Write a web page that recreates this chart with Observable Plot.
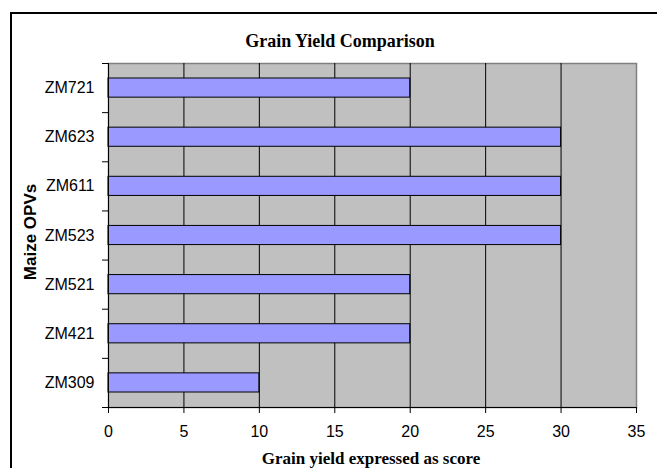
<!DOCTYPE html>
<html><head><meta charset="utf-8">
<script src="https://cdn.jsdelivr.net/npm/d3@7"></script>
<script src="https://cdn.jsdelivr.net/npm/@observablehq/plot@0.6"></script>
<style>
html,body{margin:0;padding:0;background:#fff;overflow:hidden;}
#wrap{position:relative;width:657px;height:468px;}
#border{position:absolute;left:10px;top:12px;width:660px;height:470px;border-left:2px solid #000;border-top:2px solid #000;box-sizing:border-box;}
#chart{position:absolute;left:0;top:0;}
#chart svg text{font-size:16px;font-family:"Liberation Sans",Arial,sans-serif;fill:#000;}
.t{position:absolute;font-weight:bold;white-space:nowrap;line-height:1;}
#title{left:0;width:680px;top:32px;text-align:center;font-family:"Liberation Serif","Times New Roman",serif;font-size:18px;}
#xlab{left:0;width:742px;top:450px;text-align:center;font-family:"Liberation Serif","Times New Roman",serif;font-size:17px;}
#ylab{left:30px;top:232px;font-family:"Liberation Sans",Arial,sans-serif;font-size:17px;transform:translate(-50%,-50%) rotate(-90deg);}
</style></head>
<body><div id="wrap"><div id="border"></div><div id="chart"></div>
<div class="t" id="title">Grain Yield Comparison</div>
<div class="t" id="xlab">Grain yield expressed as score</div>
<div class="t" id="ylab">Maize OPVs</div></div>
<script>
const varieties = ["ZM309","ZM421","ZM521","ZM523","ZM611","ZM623","ZM721"];
const scores = [10,20,20,30,30,30,20];
const xTicks = [0,5,10,15,20,25,30,35];

const data = varieties.map((v,i)=>({v, i, s: scores[i]}));
const chart = Plot.plot({
  width: 657, height: 468,
  marginLeft: 108, marginRight: 21, marginTop: 63, marginBottom: 61,
  style: {fontFamily: '"Liberation Sans", Arial, sans-serif', fontSize: "16px", color: "#000", background: "transparent"},
  x: {domain: [0,35], ticks: xTicks},
  y: {domain: [0, varieties.length]},
  marks: [
    Plot.frame({fill: "#c0c0c0", stroke: "#808080", strokeWidth: 1.5}),
    Plot.ruleX(xTicks.slice(1, -1), {stroke: "#000", strokeWidth: 1}),
    Plot.rectX(data, {x1: 0, x2: "s", y1: "i", y2: d => d.i + 1, insetTop: 15, insetBottom: 15, fill: "#9999ff", stroke: "#000", strokeWidth: 1}),
    Plot.ruleX([0], {stroke: "#000", strokeWidth: 1}),
    Plot.ruleY([0], {stroke: "#000", strokeWidth: 1}),
    Plot.axisX({ticks: xTicks, tickSize: 6, tickPadding: 12, label: null, fontSize: 16}),
    Plot.axisY({ticks: d3.range(0, varieties.length + 1), tickSize: 6, tickFormat: () => "", label: null}),
    Plot.axisY({ticks: varieties.map((v,i)=>i+0.5), tickSize: 0, tickPadding: 14, tickFormat: d => varieties[Math.floor(d)], label: null, fontSize: 16})
  ]
});
document.getElementById("chart").appendChild(chart);
</script></body></html>
